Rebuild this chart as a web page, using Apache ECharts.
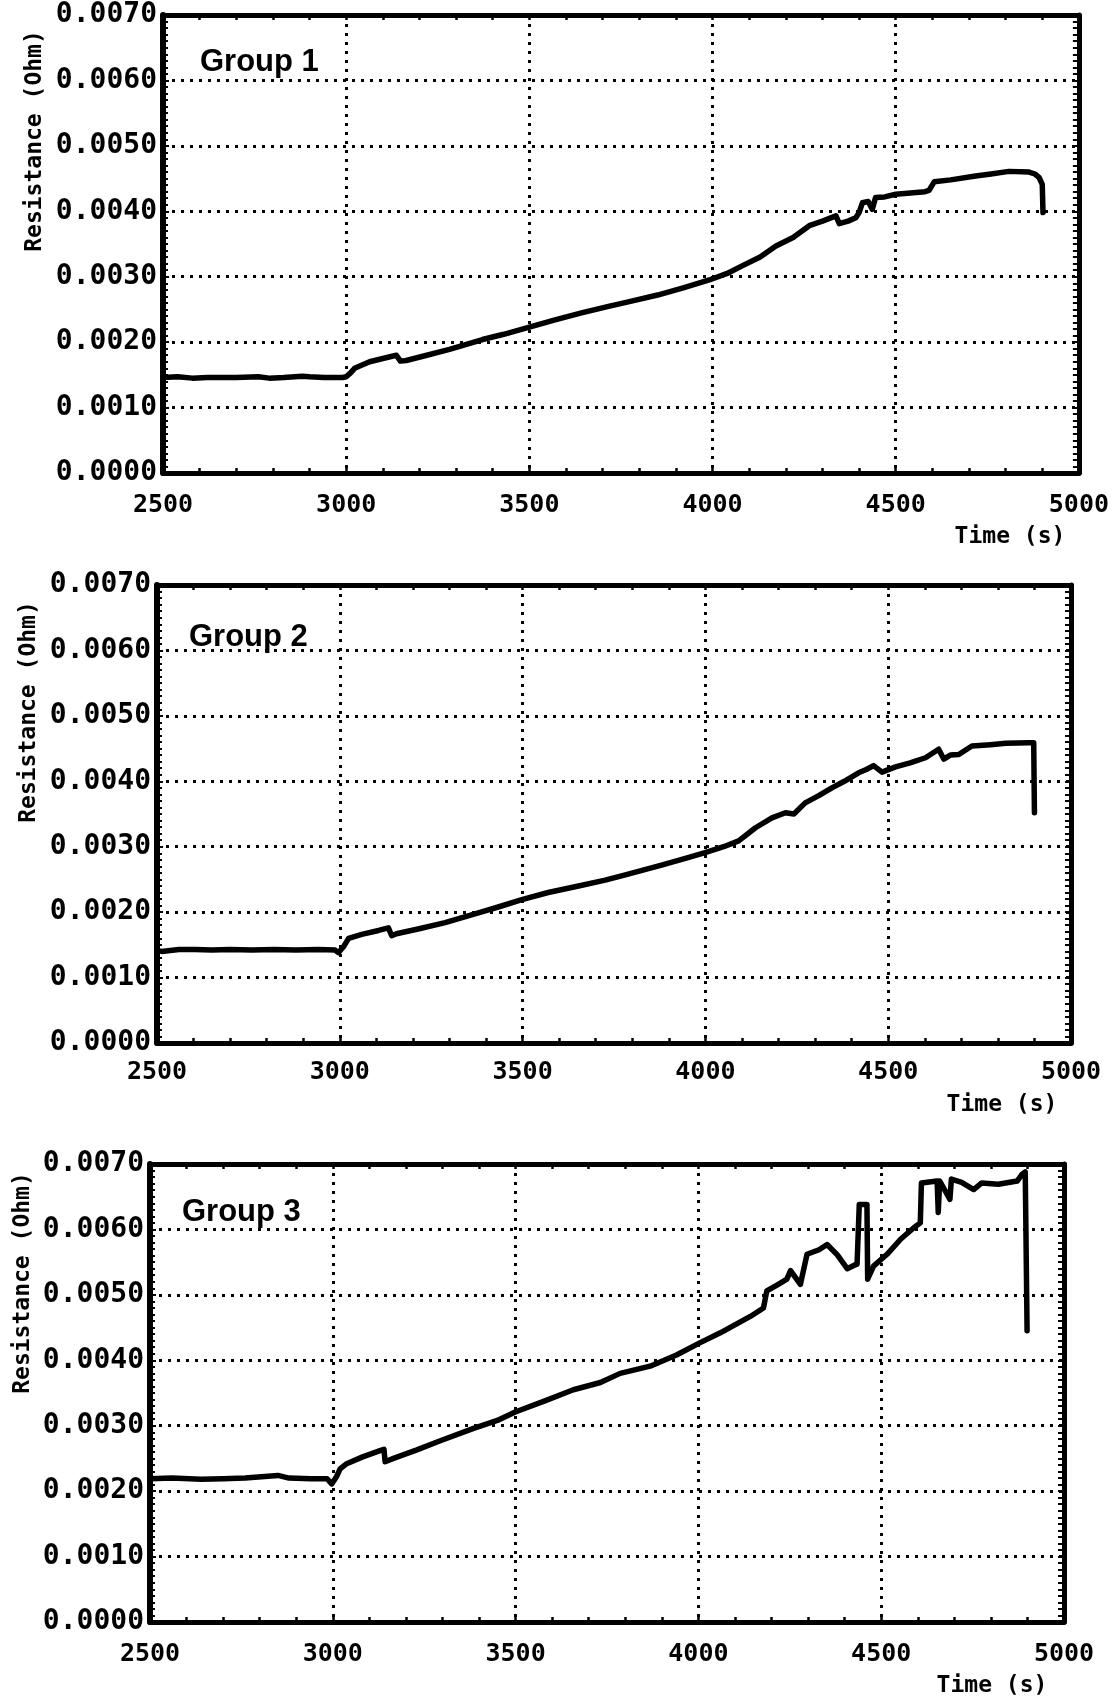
<!DOCTYPE html>
<html>
<head>
<meta charset="utf-8">
<title>Resistance vs Time</title>
<script src="https://cdn.jsdelivr.net/npm/echarts@6/dist/echarts.min.js"></script>
<style>
  html, body { margin: 0; padding: 0; background: #fff; }
  #chart { width: 1112px; height: 1699px; }
</style>
</head>
<body>
<div id="chart"></div>
<script>
// Time axis (s) and resistance readings (Ohm) for each test group
const xTicks = [2500, 3000, 3500, 4000, 4500, 5000];
const yTicks = [0, 0.001, 0.002, 0.003, 0.004, 0.005, 0.006, 0.007];

const group1Time = [2500, 2540, 2580, 2620, 2700, 2760, 2790, 2830, 2880, 2900, 2940, 2990, 3000, 3012, 3023, 3064, 3100, 3137, 3142, 3148, 3164, 3220, 3282, 3372, 3430, 3500, 3570, 3645, 3719, 3773, 3850, 3920, 3991, 4040, 4082, 4130, 4173, 4220, 4264, 4300, 4337, 4346, 4370, 4391, 4400, 4409, 4425, 4436, 4445, 4470, 4500, 4540, 4580, 4591, 4605, 4650, 4718, 4760, 4809, 4864, 4880, 4891, 4900, 4902];
const group1Res = [0.00146, 0.00147, 0.00145, 0.00146, 0.00146, 0.00147, 0.00145, 0.00146, 0.00148, 0.00147, 0.00146, 0.00146, 0.00147, 0.00153, 0.00160, 0.00170, 0.00175, 0.00180, 0.00181, 0.00171, 0.00172, 0.00180, 0.00189, 0.00204, 0.00212, 0.00223, 0.00234, 0.00245, 0.00255, 0.00262, 0.00272, 0.00283, 0.00295, 0.00305, 0.00317, 0.00330, 0.00347, 0.00360, 0.00378, 0.00385, 0.00393, 0.00381, 0.00385, 0.00390, 0.00398, 0.00413, 0.00415, 0.00403, 0.00421, 0.00422, 0.00426, 0.00428, 0.00430, 0.00432, 0.00445, 0.00448, 0.00454, 0.00457, 0.00461, 0.00460, 0.00457, 0.00452, 0.00441, 0.00398];

const group2Time = [2500, 2513, 2560, 2604, 2650, 2700, 2760, 2820, 2880, 2940, 2987, 2996, 3010, 3024, 3060, 3106, 3133, 3138, 3142, 3155, 3220, 3288, 3379, 3440, 3498, 3570, 3653, 3726, 3781, 3880, 3950, 3999, 4050, 4091, 4137, 4182, 4219, 4242, 4273, 4310, 4346, 4380, 4419, 4440, 4460, 4483, 4520, 4560, 4602, 4638, 4652, 4670, 4693, 4729, 4780, 4821, 4885, 4898, 4900];
const group2Res = [0.00141, 0.00140, 0.00143, 0.00143, 0.00142, 0.00143, 0.00142, 0.00143, 0.00142, 0.00143, 0.00142, 0.00138, 0.00147, 0.00160, 0.00166, 0.00172, 0.00176, 0.00177, 0.00164, 0.00167, 0.00175, 0.00184, 0.00199, 0.00209, 0.00219, 0.00230, 0.00240, 0.00249, 0.00257, 0.00272, 0.00283, 0.00291, 0.00300, 0.00309, 0.00329, 0.00344, 0.00352, 0.00350, 0.00367, 0.00378, 0.00390, 0.00400, 0.00413, 0.00418, 0.00424, 0.00414, 0.00422, 0.00428, 0.00436, 0.00449, 0.00434, 0.00440, 0.00441, 0.00454, 0.00456, 0.00458, 0.00459, 0.00459, 0.00352];

const group3Time = [2500, 2560, 2640, 2700, 2760, 2850, 2880, 2940, 2984, 2997, 3010, 3020, 3038, 3080, 3129, 3140, 3143, 3166, 3230, 3294, 3385, 3450, 3499, 3580, 3658, 3732, 3786, 3868, 3940, 4005, 4060, 4096, 4142, 4178, 4187, 4215, 4242, 4252, 4279, 4297, 4330, 4352, 4380, 4407, 4425, 4434, 4440, 4461, 4463, 4479, 4516, 4553, 4590, 4607, 4610, 4653, 4656, 4660, 4688, 4692, 4720, 4753, 4775, 4820, 4872, 4885, 4894, 4899];
const group3Res = [0.00219, 0.00220, 0.00218, 0.00219, 0.00220, 0.00224, 0.00220, 0.00219, 0.00219, 0.00211, 0.00222, 0.00234, 0.00242, 0.00252, 0.00262, 0.00264, 0.00245, 0.00250, 0.00263, 0.00277, 0.00296, 0.00308, 0.00321, 0.00338, 0.00355, 0.00366, 0.00380, 0.00391, 0.00408, 0.00427, 0.00442, 0.00453, 0.00467, 0.00480, 0.00506, 0.00515, 0.00524, 0.00537, 0.00516, 0.00562, 0.00569, 0.00577, 0.00561, 0.00540, 0.00545, 0.00547, 0.00638, 0.00638, 0.00524, 0.00544, 0.00562, 0.00585, 0.00603, 0.00610, 0.00671, 0.00674, 0.00626, 0.00674, 0.00646, 0.00677, 0.00672, 0.00661, 0.00671, 0.00669, 0.00674, 0.00684, 0.00688, 0.00445];

const groupNames = ['Group 1', 'Group 2', 'Group 3'];
const xName = 'Time (s)';
const yName = 'Resistance (Ohm)';

const groups = [
  { time: group1Time, res: group1Res },
  { time: group2Time, res: group2Res },
  { time: group3Time, res: group3Res }
];

// Panel placement (px) and text positions for the three stacked plots
const panels = [
  { left: 163, top: 15,   width: 917, height: 458, xMargin: 20,
    group: [200, 62],   yName: [35, 141],  xName: [1010, 537] },
  { left: 157, top: 585,  width: 914, height: 458, xMargin: 17,
    group: [189, 637],  yName: [29, 712],  xName: [1002, 1105] },
  { left: 150, top: 1164, width: 914, height: 458, xMargin: 20,
    group: [182, 1212], yName: [23, 1283], xName: [992, 1686] }
];

const MONO = '"DejaVu Sans Mono", "Liberation Mono", monospace';
const BLACK = '#000';
const dotted = { color: BLACK, width: 3, type: [3, 6], cap: 'butt' };

const grid = [], xAxis = [], yAxis = [], series = [], graphic = [];

panels.forEach((p, i) => {
  grid.push({ left: p.left, top: p.top, width: p.width, height: p.height, containLabel: false });

  // bottom time axis with labels and dotted vertical grid
  xAxis.push({
    gridIndex: i, type: 'value', position: 'bottom',
    min: xTicks[0], max: xTicks[xTicks.length - 1], interval: 500,
    axisLine: { show: true, onZero: false, lineStyle: { color: BLACK, width: 5 } },
    axisTick: { show: true, inside: true, length: 8, lineStyle: { color: BLACK, width: 2.5 } },
    minorTick: { show: true, splitNumber: 5, length: 5, lineStyle: { color: BLACK, width: 2.5 } },
    splitLine: { show: true, lineStyle: dotted },
    axisLabel: { show: true, color: BLACK, fontFamily: MONO, fontWeight: 'bold', fontSize: 25,
                 margin: p.xMargin, formatter: v => String(v) }
  });
  // top frame edge
  xAxis.push({
    gridIndex: i, type: 'value', position: 'top',
    min: xTicks[0], max: xTicks[xTicks.length - 1], interval: 500,
    axisLine: { show: true, onZero: false, lineStyle: { color: BLACK, width: 5 } },
    axisTick: { show: true, inside: true, length: 5, lineStyle: { color: BLACK, width: 2.5 } },
    minorTick: { show: true, splitNumber: 5, length: 5, lineStyle: { color: BLACK, width: 2.5 } },
    splitLine: { show: false }, axisLabel: { show: false }
  });

  // left resistance axis with labels and dotted horizontal grid
  yAxis.push({
    gridIndex: i, type: 'value', position: 'left',
    min: yTicks[0], max: yTicks[yTicks.length - 1], interval: 0.001,
    axisLine: { show: true, onZero: false, lineStyle: { color: BLACK, width: 6 } },
    axisTick: { show: true, inside: true, length: 6, lineStyle: { color: BLACK, width: 2 } },
    minorTick: { show: true, splitNumber: 10, length: 5, lineStyle: { color: BLACK, width: 2 } },
    splitLine: { show: true, lineStyle: dotted },
    axisLabel: {
      show: true, color: BLACK, fontFamily: MONO, fontWeight: 'bold', fontSize: 28, margin: 6,
      padding: [6, 0, 0, 0],
      formatter: v => v.toFixed(4)
    }
  });
  // right frame edge
  yAxis.push({
    gridIndex: i, type: 'value', position: 'right',
    min: yTicks[0], max: yTicks[yTicks.length - 1], interval: 0.001,
    axisLine: { show: true, onZero: false, lineStyle: { color: BLACK, width: 5 } },
    axisTick: { show: true, inside: true, length: 6, lineStyle: { color: BLACK, width: 2 } },
    minorTick: { show: true, splitNumber: 10, length: 6, lineStyle: { color: BLACK, width: 2 } },
    splitLine: { show: false }, axisLabel: { show: false }
  });

  series.push({
    type: 'line', name: groupNames[i],
    xAxisIndex: 2 * i, yAxisIndex: 2 * i,
    data: groups[i].time.map((t, k) => [t, groups[i].res[k]]),
    showSymbol: false, symbol: 'none', smooth: false,
    lineStyle: { color: BLACK, width: 5.5, join: 'round', cap: 'round' },
    z: 5
  });

  graphic.push({
    type: 'text', x: p.group[0], y: p.group[1], z: 10,
    style: { text: groupNames[i], fill: BLACK, font: 'bold 31px "Liberation Sans", Arial, sans-serif',
             textAlign: 'left', textVerticalAlign: 'middle' }
  });
  graphic.push({
    type: 'text', x: p.yName[0], y: p.yName[1], rotation: Math.PI / 2, z: 10,
    style: { text: yName, fill: BLACK, font: 'bold 23px ' + MONO,
             textAlign: 'center', textVerticalAlign: 'middle' }
  });
  graphic.push({
    type: 'text', x: p.xName[0], y: p.xName[1], z: 10,
    style: { text: xName, fill: BLACK, font: 'bold 23px ' + MONO,
             textAlign: 'center', textVerticalAlign: 'middle' }
  });
});

const chart = echarts.init(document.getElementById('chart'), null, { renderer: 'canvas' });
chart.setOption({
  backgroundColor: '#fff',
  animation: false,
  grid, xAxis, yAxis, series, graphic
});
</script>
</body>
</html>
